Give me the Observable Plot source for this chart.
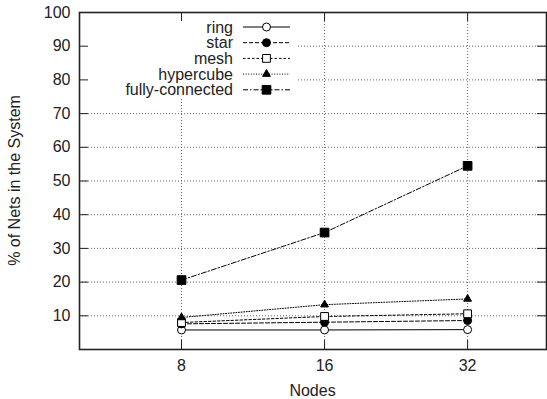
<!DOCTYPE html>
<html>
<head>
<meta charset="utf-8">
<script src="https://cdn.jsdelivr.net/npm/d3@7"></script>
<script src="https://cdn.jsdelivr.net/npm/@observablehq/plot@0.6"></script>
<style>
  html, body { margin: 0; padding: 0; background: #fff; }
  #chart svg { display: block; }
</style>
</head>
<body>
<div id="chart"></div>
<script>
// ---- data ----
const nodes = [8, 16, 32];
const seriesNames = ["ring", "star", "mesh", "hypercube", "fully-connected"];
const ring = [5.8, 5.8, 5.9];
const star = [7.6, 8.1, 8.6];
const mesh = [8.0, 9.8, 10.6];
const hypercube = [9.5, 13.3, 15.0];
const fullyConnected = [20.6, 34.7, 54.5];
const yTicks = [10, 20, 30, 40, 50, 60, 70, 80, 90, 100];
const yGridTicks = [10, 20, 30, 40, 50, 60, 70, 80, 90];
const xDomain = [4.88, 46.9];
const yDomain = [0, 100];

const values = [ring, star, mesh, hypercube, fullyConnected];
const table = [];
seriesNames.forEach((s, i) => nodes.forEach((n, j) => table.push({series: s, nodes: n, value: values[i][j]})));

// ---- styles ----
const styles = {
  "ring":            {dash: null,        symbol: "circle",   fill: "white", r: 4},
  "star":            {dash: "4,2",       symbol: "circle",   fill: "black", r: 4},
  "mesh":            {dash: "2.5,2",     symbol: "square",   fill: "white", r: 4.4},
  "hypercube":       {dash: "1,1.6",     symbol: "triangle", fill: "black", r: 2.9},
  "fully-connected": {dash: "5,2,1.5,2", symbol: "square",   fill: "black", r: 4.9}
};

const W = 547, H = 399, mL = 79, mR = 1, mT = 12, mB = 50;
const plotW = W - mL - mR, plotH = H - mT - mB;
const font = "'Liberation Sans', Arial, Helvetica, sans-serif";
const fs = 16;

const marks = [
  Plot.ruleY(yGridTicks, {y: d => d, stroke: "#666", strokeWidth: 1, strokeDasharray: "1,2"}),
  Plot.ruleX(nodes, {x: d => d, stroke: "#666", strokeWidth: 1, strokeDasharray: "1,2"}),
  Plot.tickY(yTicks, {y: d => d, insetRight: plotW - 9, stroke: "#222"}),
  Plot.tickY(yTicks, {y: d => d, insetLeft: plotW - 9, stroke: "#222"}),
  Plot.tickX(nodes, {x: d => d, insetTop: plotH - 9, stroke: "#222"}),
  Plot.tickX(nodes, {x: d => d, insetBottom: plotH - 9, stroke: "#222"}),
  Plot.frame({stroke: "#222", strokeWidth: 1.6}),
  Plot.axisY(yTicks, {tickSize: 0, tickPadding: 9, label: null, fill: "#222"}),
  Plot.axisX(nodes, {tickSize: 0, tickPadding: 10, label: null, tickFormat: d => String(d), fill: "#222"})
];
for (const s of seriesNames) {
  const st = styles[s];
  const data = table.filter(d => d.series === s);
  marks.push(Plot.line(data, {x: "nodes", y: "value", stroke: "#000", strokeWidth: 1, strokeDasharray: st.dash}));
}
for (const s of seriesNames) {
  const st = styles[s];
  const data = table.filter(d => d.series === s);
  marks.push(Plot.dot(data, {x: "nodes", y: "value", symbol: () => st.symbol, r: st.r, fill: st.fill, stroke: "#000", strokeWidth: 1}));
}

const chart = Plot.plot({
  width: W, height: H,
  marginLeft: mL, marginRight: mR, marginTop: mT, marginBottom: mB,
  x: {type: "log", base: 2, domain: xDomain},
  y: {domain: yDomain},
  symbol: {type: "identity"},
  style: {fontFamily: font, fontSize: fs + "px", background: "white", color: "#222"},
  marks
});

const svg = d3.select(chart);
// legend background blanks the grid behind the key
svg.insert("rect", "g[aria-label='tick']")
  .attr("x", mL + 1).attr("y", mT + 1).attr("width", 298 - mL - 1).attr("height", 98 - mT - 1)
  .attr("fill", "white");

// axis titles
svg.append("text").attr("transform", `translate(14, ${mT + plotH / 2}) rotate(-90)`)
  .attr("text-anchor", "middle").attr("dominant-baseline", "central")
  .attr("font-family", font).attr("font-size", fs).attr("fill", "#222")
  .text("% of Nets in the System");
svg.append("text").attr("x", mL + plotW / 2).attr("y", 390)
  .attr("text-anchor", "middle").attr("dominant-baseline", "central")
  .attr("font-family", font).attr("font-size", fs).attr("fill", "#222")
  .text("Nodes");

// legend
const lg = svg.append("g");
const symMap = {circle: d3.symbolCircle, square: d3.symbolSquare, triangle: d3.symbolTriangle};
seriesNames.forEach((s, i) => {
  const st = styles[s];
  const y = 27 + i * 15.7;
  lg.append("text").attr("x", 233).attr("y", y).attr("text-anchor", "end").attr("dominant-baseline", "central")
    .attr("font-family", font).attr("font-size", fs).attr("fill", "#222").text(s);
  lg.append("line").attr("x1", 243).attr("x2", 290).attr("y1", y).attr("y2", y)
    .attr("stroke", "#000").attr("stroke-width", 1).attr("stroke-dasharray", st.dash);
  lg.append("path").attr("transform", `translate(266.5, ${y})`)
    .attr("d", d3.symbol(symMap[st.symbol], Math.PI * st.r * st.r)())
    .attr("fill", st.fill).attr("stroke", "#000").attr("stroke-width", 1);
});

document.getElementById("chart").appendChild(chart);
</script>
</body>
</html>
